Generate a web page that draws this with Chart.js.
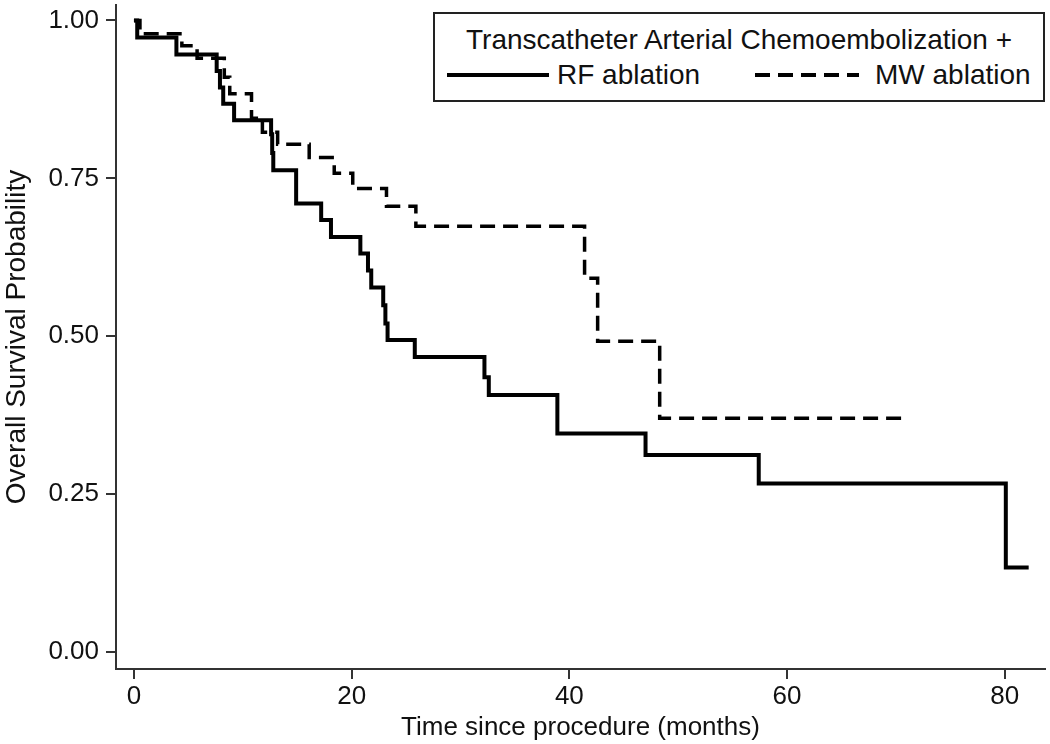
<!DOCTYPE html>
<html>
<head>
<meta charset="utf-8">
<script src="https://cdn.jsdelivr.net/npm/chart.js@4/dist/chart.umd.min.js"></script>
<style>
  html, body { margin: 0; padding: 0; background: #fff; }
  #wrap { position: relative; width: 1050px; height: 744px; }
  #c { position: absolute; left: 0; top: 0; }
  #legend { position: absolute; left: 433px; top: 12px; width: 608px; height: 86px;
    border: 2px solid #222; background: #fff; font-family: 'Liberation Sans', Arial, sans-serif;
    font-size: 28px; color: #111; }
  #legend .ttl { position: absolute; left: 0; right: 0; top: 10px; text-align: center; white-space: nowrap; }
  #legend .it { position: absolute; top: 45px; white-space: nowrap; }
  #legend svg { position: absolute; }
</style>
</head>
<body>
<div id="wrap">
  <canvas id="c" width="1050" height="744"></canvas>
  <div id="legend">
    <div class="ttl">Transcatheter Arterial Chemoembolization +</div>
    <svg style="left:12px;top:46px" width="110" height="30"><line x1="0" y1="15" x2="102" y2="15" stroke="#000" stroke-width="4"/></svg>
    <div class="it" style="left:122px">RF ablation</div>
    <svg style="left:320px;top:46px" width="110" height="30"><line x1="0" y1="15" x2="104" y2="15" stroke="#000" stroke-width="4" stroke-dasharray="15 8"/></svg>
    <div class="it" style="left:440px">MW ablation</div>
  </div>
</div>
<script>
const seriesNames = ['RF ablation', 'MW ablation'];
const rfTime = [0, 0.3, 3.9, 7.6, 7.9, 8.2, 9.2, 12.6, 12.7, 12.8, 14.9, 17.2, 18.1, 20.8, 21.5, 21.8, 22.9, 23.1, 23.3, 25.8, 32.2, 32.6, 38.9, 47.0, 57.4, 80.1, 82.2];
const rfSurv = [1, 0.973, 0.946, 0.92, 0.894, 0.868, 0.842, 0.82, 0.79, 0.763, 0.71, 0.684, 0.657, 0.631, 0.604, 0.577, 0.549, 0.52, 0.494, 0.467, 0.435, 0.407, 0.346, 0.312, 0.267, 0.134, 0.134];
const mwTime = [0, 0.55, 4.4, 5.8, 8.3, 8.8, 10.8, 11.8, 13.2, 16.1, 18.4, 20.1, 23.2, 25.9, 41.4, 42.6, 48.3, 70.7];
const mwSurv = [1, 0.979, 0.96, 0.94, 0.91, 0.884, 0.845, 0.823, 0.804, 0.783, 0.758, 0.734, 0.706, 0.674, 0.592, 0.492, 0.37, 0.37];
const xTicks = [0, 20, 40, 60, 80];
const yTicks = [0, 0.25, 0.5, 0.75, 1];
const xTitle = 'Time since procedure (months)';
const yTitle = 'Overall Survival Probability';

const font = { family: "'Liberation Sans', Arial, sans-serif", size: 26 };
const yTitleFont = { family: "'Liberation Sans', Arial, sans-serif", size: 28 };
const axisColor = '#333';

new Chart(document.getElementById('c'), {
  type: 'line',
  data: {
    datasets: [
      { label: seriesNames[0], data: rfTime.map((t, i) => ({ x: t, y: rfSurv[i] })),
        stepped: 'before', borderColor: '#000', borderWidth: 4, pointRadius: 0, fill: false },
      { label: seriesNames[1], data: mwTime.map((t, i) => ({ x: t, y: mwSurv[i] })),
        stepped: 'before', borderColor: '#000', borderWidth: 3.5, borderDash: [15, 8], pointRadius: 0, fill: false }
    ]
  },
  options: {
    responsive: false,
    animation: false,
    devicePixelRatio: 1,
    layout: { padding: { top: 5, right: 5, left: 0, bottom: 0 } },
    plugins: { legend: { display: false }, tooltip: { enabled: false } },
    scales: {
      x: {
        type: 'linear', min: -1.65, max: 83.7,
        afterBuildTicks: s => { s.ticks = xTicks.map(v => ({ value: v })); },
        afterFit: s => { s.height = 75; s.paddingLeft = 0; s.paddingRight = 0; },
        border: { display: true, color: axisColor, width: 2 },
        grid: { drawOnChartArea: false, drawTicks: true, tickLength: 10, color: axisColor, lineWidth: 2 },
        ticks: { font: font, color: '#111', padding: 2, maxRotation: 0, callback: v => String(v) },
        title: { display: true, text: xTitle, font: font, color: '#111', padding: { top: 0, bottom: 1 } }
      },
      y: {
        type: 'linear', min: -0.0269, max: 1.0245,
        afterBuildTicks: s => { s.ticks = yTicks.map(v => ({ value: v })); },
        afterFit: s => { s.width = 116; s.paddingTop = 0; s.paddingBottom = 0; },
        border: { display: true, color: axisColor, width: 2 },
        grid: { drawOnChartArea: false, drawTicks: true, tickLength: 10, color: axisColor, lineWidth: 2 },
        ticks: { font: font, color: '#111', padding: 7, callback: v => Number(v).toFixed(2) },
        title: { display: true, text: yTitle, font: yTitleFont, color: '#111', padding: 0 }
      }
    }
  }
});
</script>
</body>
</html>
